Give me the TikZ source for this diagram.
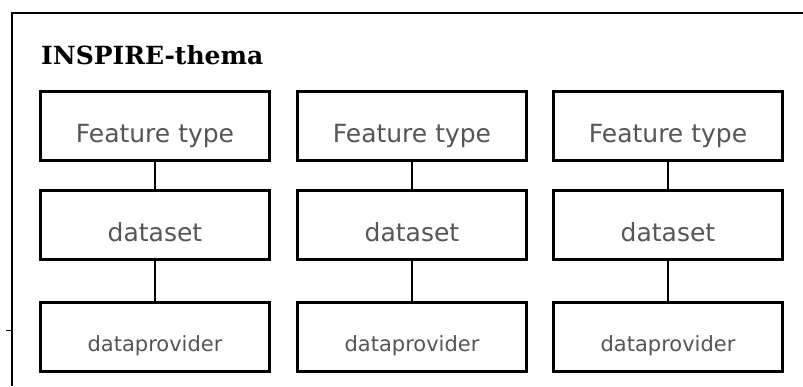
\documentclass[tikz,border=0pt]{standalone}
\usepackage{fontspec}
\setmainfont{DejaVu Sans}
\newfontfamily\titlefont{DejaVu Serif}
\usepackage{tikz}
\definecolor{boxtext}{HTML}{555555}

\begin{document}
\begin{tikzpicture}[x=1pt, y=-1pt]
\tikzset{box/.style = {shape=rectangle, draw, line width=2.2pt, minimum width=229pt, minimum height=69pt, text=boxtext, font=\fontsize{25}{25}\selectfont, text height=32pt, text depth=0pt}}
\tikzset{small/.style = {font=\fontsize{21}{21}\selectfont, text height=29pt}}
\tikzset{link/.style = {draw, line width=2.2pt, -}}
\useasboundingbox (0,0) rectangle (803,386);

% frame and title
\draw[line width=2pt] (803,13) -- (12,13) -- (12,386);
\draw[line width=1pt] (6,330) -- (12,330);
\node[anchor=base west, inner sep=0pt, font=\titlefont\bfseries\fontsize{25}{25}\selectfont] (title) at (41,64) {INSPIRE-thema};

% boxes
\node[box] (ft1) at (155,126) {Feature type};
\node[box] (ft2) at (412,126) {Feature type};
\node[box] (ft3) at (668,126) {Feature type};
\node[box] (ds1) at (155,225) {dataset};
\node[box] (ds2) at (412,225) {dataset};
\node[box] (ds3) at (668,225) {dataset};
\node[box, small] (dp1) at (155,337) {dataprovider};
\node[box, small] (dp2) at (412,337) {dataprovider};
\node[box, small] (dp3) at (668,337) {dataprovider};

% links
\draw[link] (ft1) -- (ds1);
\draw[link] (ds1) -- (dp1);
\draw[link] (ft2) -- (ds2);
\draw[link] (ds2) -- (dp2);
\draw[link] (ft3) -- (ds3);
\draw[link] (ds3) -- (dp3);
\end{tikzpicture}
\end{document}
